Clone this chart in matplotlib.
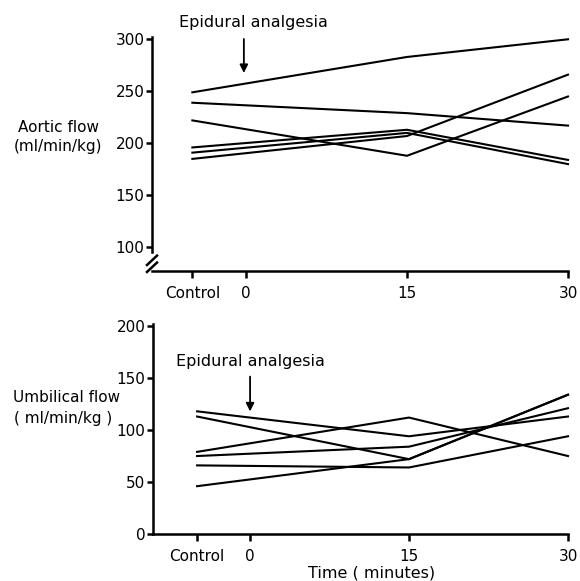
import matplotlib
matplotlib.use('Agg')
import matplotlib.pyplot as plt
from matplotlib.lines import Line2D

# time points: Control is drawn 5 min before time 0
time_points = [-5, 15, 30]
tick_pos = [-5, 0, 15, 30]
tick_labels = ['Control', '0', '15', '30']

# aortic flow (ml/min/kg), one list per animal
aortic = [
    [249, 283, 300],
    [239, 229, 217],
    [222, 188, 245],
    [196, 213, 184],
    [185, 207, 266],
    [191, 210, 180],
]

# umbilical flow (ml/min/kg)
umbilical = [
    [118, 94, 113],
    [113, 72, 134],
    [79, 112, 75],
    [75, 84, 121],
    [66, 64, 94],
    [46, 72, 134],
]

W, H = 580, 581
plt.rcParams['font.family'] = 'DejaVu Sans'
fig = plt.figure(figsize=(W / 100, H / 100), dpi=100)

def px_axes(left, right, top, bottom):
    return fig.add_axes([left / W, 1 - bottom / H, (right - left) / W, (bottom - top) / H])

ax1 = px_axes(152, 568, 37, 271)
ax2 = px_axes(153, 568, 324, 534)

for ax, data in ((ax1, aortic), (ax2, umbilical)):
    for row in data:
        ax.plot(time_points, row, color='black', lw=1.5, clip_on=False)
    ax.spines['top'].set_visible(False)
    ax.spines['right'].set_visible(False)
    for s in ('left', 'bottom'):
        ax.spines[s].set_linewidth(1.8)
    ax.set_xticks(tick_pos)
    ax.set_xticklabels(tick_labels)
    ax.tick_params(axis='y', direction='out', length=4, width=1.8,
                   labelsize=11, pad=1.5)
    ax.tick_params(axis='x', direction='out', length=5, width=1.8,
                   labelsize=11, pad=6)

ax1.set_xlim(-8.76, 30)
ax1.set_ylim(77.2, 302.2)
ax1.set_yticks([100, 150, 200, 250, 300])
ax1.spines['left'].set_bounds(95, 302.2)

# axis break mark in the corner
for y0 in (0.0256, -0.004):
    ax1.add_line(Line2D([-5 / 416, 5 / 416], [y0, y0 + 0.04], color='black',
                        lw=1.8, transform=ax1.transAxes, clip_on=False))

ax2.set_xlim(-9.16, 30)
ax2.set_ylim(0, 202)
ax2.set_yticks([0, 50, 100, 150, 200])

# annotations
ax1.text(0.7, 315.7, 'Epidural analgesia', ha='center', va='center',
         fontsize=11.5, clip_on=False)
ax1.annotate('', xy=(-0.2, 267.6), xytext=(-0.2, 300.3),
             arrowprops=dict(arrowstyle='-|>', color='black', lw=1.3,
                             mutation_scale=12, shrinkA=0, shrinkB=0),
             annotation_clip=False)

ax2.text(0, 165.8, 'Epidural analgesia', ha='center', va='center',
         fontsize=11.5, clip_on=False)
ax2.annotate('', xy=(0, 117.9), xytext=(0, 151.4),
             arrowprops=dict(arrowstyle='-|>', color='black', lw=1.3,
                             mutation_scale=12, shrinkA=0, shrinkB=0),
             annotation_clip=False)

# axis labels
fig.text(58 / W, 1 - 128 / H, 'Aortic flow', ha='center', va='center', fontsize=11)
fig.text(58 / W, 1 - 147 / H, '(ml/min/kg)', ha='center', va='center', fontsize=11)
fig.text(67 / W, 1 - 398 / H, 'Umbilical flow', ha='center', va='center', fontsize=11)
fig.text(63 / W, 1 - 418 / H, '( ml/min/kg )', ha='center', va='center', fontsize=11)
fig.text(372 / W, 1 - 573 / H, 'Time ( minutes)', ha='center', va='center', fontsize=11.5)

fig.savefig('out.png', dpi=100)
